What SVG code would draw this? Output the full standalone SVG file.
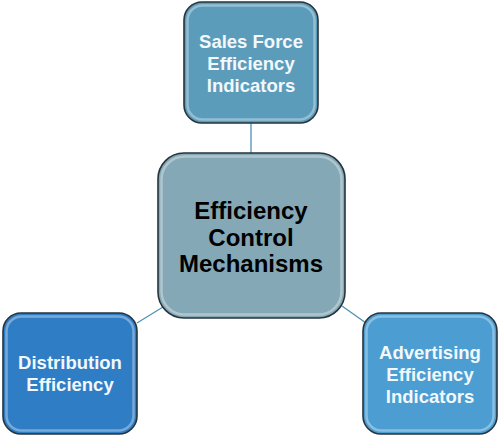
<svg xmlns="http://www.w3.org/2000/svg" width="500" height="438" viewBox="0 0 500 438">
<style>
.box{stroke:#26343d;stroke-width:1.6}
.bevel{fill:none;stroke:#ffffff;stroke-opacity:0.35;stroke-width:2.5}
.t{font-family:"Liberation Sans",Arial,sans-serif;font-weight:bold;text-anchor:middle}
.w{fill:#f2f8fb;font-size:18.5px}
.k{fill:#000000;font-size:24px}
.c{stroke:#4f8fb5;stroke-width:1.3;fill:none}
</style>
<rect width="500" height="438" fill="#ffffff"/>
<g id="connectors">
<line class="c" x1="251" y1="123" x2="251" y2="154"/>
<line class="c" x1="137" y1="323" x2="163" y2="307"/>
<line class="c" x1="342" y1="306" x2="366" y2="323"/>
</g>
<g id="node-sales">
<rect class="box" x="184" y="2" width="134" height="121" rx="18" fill="#5c9cbb"/>
<rect class="bevel" x="187.5" y="5.5" width="127" height="114" rx="15"/>
<text class="t w" x="251" y="48">Sales Force</text>
<text class="t w" x="251" y="70">Efficiency</text>
<text class="t w" x="251" y="92">Indicators</text>
</g>
<g id="node-center">
<rect class="box" x="158" y="153" width="187" height="165" rx="26" fill="#84a8b6"/>
<rect class="bevel" x="161.5" y="156.5" width="180" height="158" rx="23"/>
<text class="t k" x="251" y="219">Efficiency</text>
<text class="t k" x="251" y="246">Control</text>
<text class="t k" x="251" y="272">Mechanisms</text>
</g>
<g id="node-distribution">
<rect class="box" x="3" y="313" width="134" height="121" rx="18" fill="#2f7dc5"/>
<rect class="bevel" x="6.5" y="316.5" width="127" height="114" rx="15"/>
<text class="t w" x="70" y="369">Distribution</text>
<text class="t w" x="70" y="391">Efficiency</text>
</g>
<g id="node-advertising">
<rect class="box" x="363" y="313" width="134" height="121" rx="18" fill="#4b9dd2"/>
<rect class="bevel" x="366.5" y="316.5" width="127" height="114" rx="15"/>
<text class="t w" x="430" y="359">Advertising</text>
<text class="t w" x="430" y="381">Efficiency</text>
<text class="t w" x="430" y="403">Indicators</text>
</g>
</svg>
